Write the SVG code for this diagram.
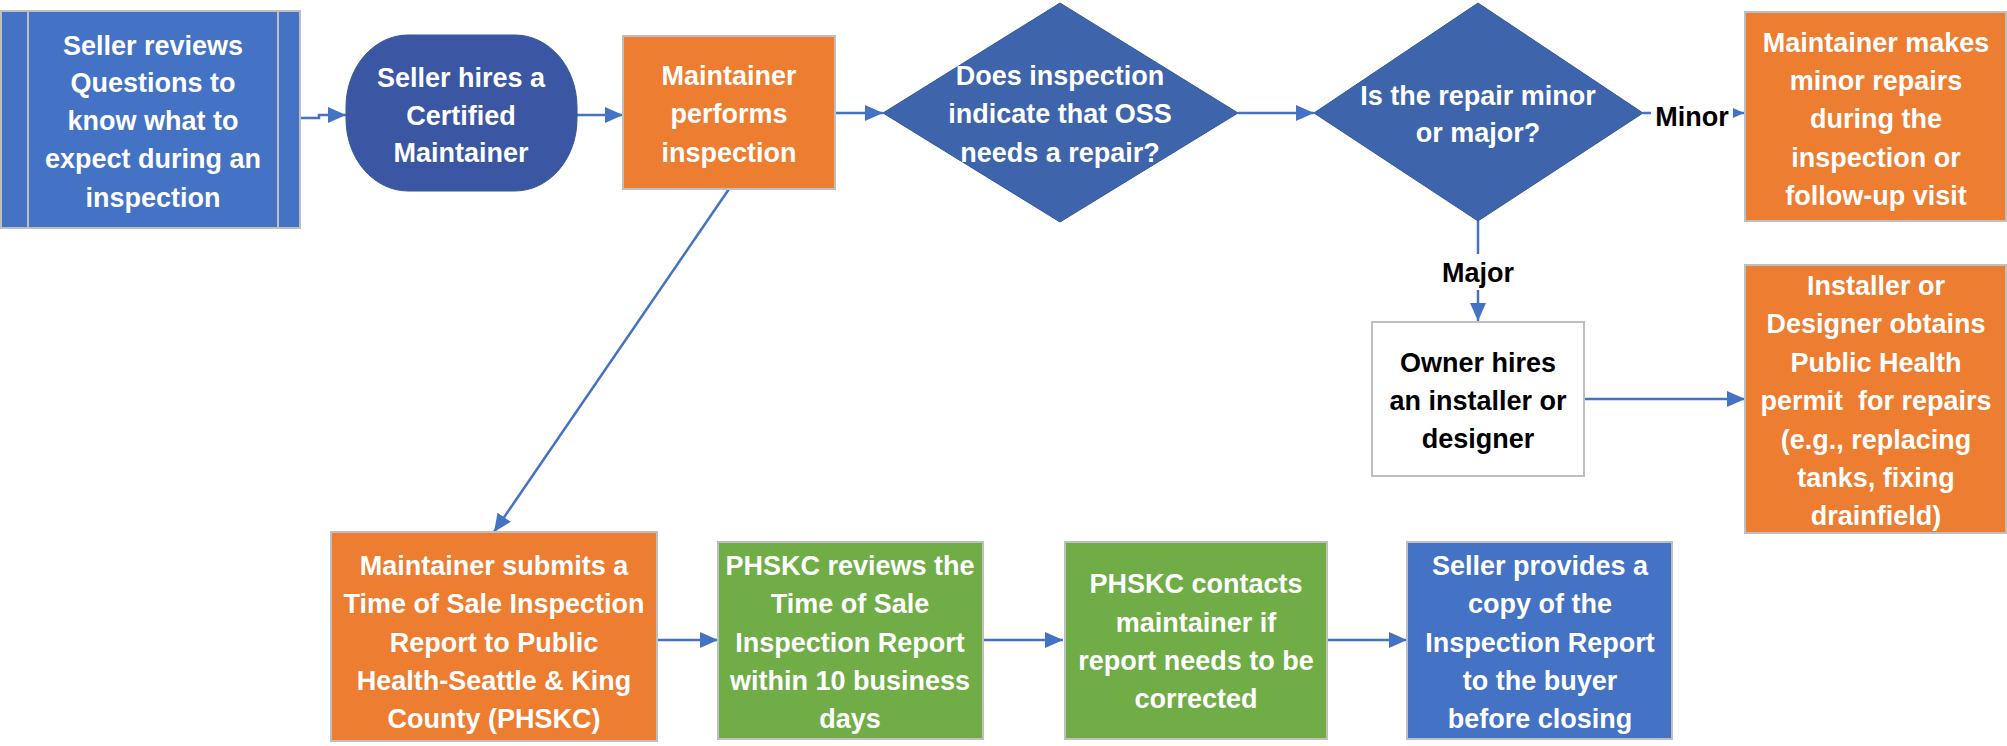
<svg xmlns="http://www.w3.org/2000/svg" width="2007" height="746" viewBox="0 0 2007 746">
<style>
.t{font-family:"Liberation Sans",Arial,sans-serif;font-weight:bold;font-size:27px;text-anchor:middle;fill:#ffffff}
.k{fill:#000000}
.box{stroke:#BFBFBF;stroke-width:2}
.blue{fill:#4472C4}
.orange{fill:#ED7D31}
.green{fill:#70AD47}
.dia{fill:#3E64AB;stroke:#35599C;stroke-width:1}
.conn{fill:none;stroke:#4472C4;stroke-width:2.5}
</style>
<defs>
<marker id="ah" markerUnits="userSpaceOnUse" markerWidth="19" markerHeight="18" refX="18" refY="8" orient="auto">
<path d="M0,0 L18,8 L0,16 z" fill="#4472C4"/>
</marker>
<marker id="ahs" markerUnits="userSpaceOnUse" markerWidth="12" markerHeight="12" refX="11" refY="5" orient="auto">
<path d="M0,0 L11,5 L0,10 z" fill="#4472C4"/>
</marker>
</defs>
<rect width="2007" height="746" fill="#ffffff"/>

<g id="connectors">
<path class="conn" d="M300,118 H319 V115 H346" marker-end="url(#ah)"/>
<path class="conn" d="M577,115 H623" marker-end="url(#ah)"/>
<path class="conn" d="M835,113 H883" marker-end="url(#ah)"/>
<path class="conn" d="M1238,113 H1314" marker-end="url(#ah)"/>
<path class="conn" d="M1643,113 H1744" marker-end="url(#ahs)"/>
<path class="conn" d="M1478,221 V321" marker-end="url(#ah)"/>
<path class="conn" d="M1584,399 H1745" marker-end="url(#ah)"/>
<path class="conn" d="M729,189 L494,532" marker-end="url(#ah)"/>
<path class="conn" d="M657,640 H718" marker-end="url(#ah)"/>
<path class="conn" d="M983,640 H1063" marker-end="url(#ah)"/>
<path class="conn" d="M1327,640 H1407" marker-end="url(#ah)"/>
<rect x="1651" y="98" width="82" height="34" fill="#ffffff"/>
<text class="t k" x="1692" y="126">Minor</text>
<rect x="1440" y="254" width="76" height="36" fill="#ffffff"/>
<text class="t k" x="1478" y="282">Major</text>
</g>

<g id="n1">
<rect class="box blue" x="1" y="11" width="299" height="217"/>
<line x1="28" y1="11" x2="28" y2="228" stroke="#BFBFBF" stroke-width="2"/>
<line x1="278" y1="11" x2="278" y2="228" stroke="#BFBFBF" stroke-width="2"/>
<text class="t" x="153"><tspan x="153" y="55">Seller reviews</tspan><tspan x="153" y="92">Questions to</tspan><tspan x="153" y="130">know what to</tspan><tspan x="153" y="168">expect during an</tspan><tspan x="153" y="207">inspection</tspan></text>
</g>

<g id="n2">
<rect x="346" y="35" width="231" height="156" rx="62" ry="72" fill="#3B56A2" stroke="#35599C" stroke-width="1"/>
<text class="t"><tspan x="461" y="87">Seller hires a</tspan><tspan x="461" y="125">Certified</tspan><tspan x="461" y="162">Maintainer</tspan></text>
</g>

<g id="n3">
<rect class="box orange" x="623" y="36" width="212" height="153"/>
<text class="t"><tspan x="729" y="85">Maintainer</tspan><tspan x="729" y="123">performs</tspan><tspan x="729" y="162">inspection</tspan></text>
</g>

<g id="d1">
<polygon class="dia" points="1060,3 1238,113 1060,222 883,113"/>
<text class="t"><tspan x="1060" y="85">Does inspection</tspan><tspan x="1060" y="123">indicate that OSS</tspan><tspan x="1060" y="162">needs a repair?</tspan></text>
</g>

<g id="d2">
<polygon class="dia" points="1478,3 1643,113 1478,221 1314,113"/>
<text class="t"><tspan x="1478" y="105">Is the repair minor</tspan><tspan x="1478" y="142">or major?</tspan></text>
</g>

<g id="n4">
<rect class="box orange" x="1745" y="12" width="261" height="209"/>
<text class="t"><tspan x="1876" y="52">Maintainer makes</tspan><tspan x="1876" y="90">minor repairs</tspan><tspan x="1876" y="128">during the</tspan><tspan x="1876" y="167">inspection or</tspan><tspan x="1876" y="205">follow-up visit</tspan></text>
</g>

<g id="n5">
<rect class="box" x="1372" y="322" width="212" height="154" fill="#ffffff"/>
<text class="t k"><tspan x="1478" y="372">Owner hires</tspan><tspan x="1478" y="410">an installer or</tspan><tspan x="1478" y="448">designer</tspan></text>
</g>

<g id="n6">
<rect class="box orange" x="1745" y="265" width="261" height="268"/>
<text class="t" style="white-space:pre"><tspan x="1876" y="295">Installer or</tspan><tspan x="1876" y="333">Designer obtains</tspan><tspan x="1876" y="372">Public Health</tspan><tspan x="1876" y="410">permit  for repairs</tspan><tspan x="1876" y="449">(e.g., replacing</tspan><tspan x="1876" y="487">tanks, fixing</tspan><tspan x="1876" y="525">drainfield)</tspan></text>
</g>

<g id="n7">
<rect class="box orange" x="331" y="532" width="326" height="209"/>
<text class="t"><tspan x="494" y="575">Maintainer submits a</tspan><tspan x="494" y="613">Time of Sale Inspection</tspan><tspan x="494" y="652">Report to Public</tspan><tspan x="494" y="690">Health-Seattle &amp; King</tspan><tspan x="494" y="728">County (PHSKC)</tspan></text>
</g>

<g id="n8">
<rect class="box green" x="718" y="542" width="265" height="197"/>
<text class="t"><tspan x="850" y="575">PHSKC reviews the</tspan><tspan x="850" y="613">Time of Sale</tspan><tspan x="850" y="652">Inspection Report</tspan><tspan x="850" y="690">within 10 business</tspan><tspan x="850" y="728">days</tspan></text>
</g>

<g id="n9">
<rect class="box green" x="1065" y="542" width="262" height="197"/>
<text class="t"><tspan x="1196" y="593">PHSKC contacts</tspan><tspan x="1196" y="632">maintainer if</tspan><tspan x="1196" y="670">report needs to be</tspan><tspan x="1196" y="708">corrected</tspan></text>
</g>

<g id="n10">
<rect class="box blue" x="1407" y="542" width="265" height="197"/>
<text class="t"><tspan x="1540" y="575">Seller provides a</tspan><tspan x="1540" y="613">copy of the</tspan><tspan x="1540" y="652">Inspection Report</tspan><tspan x="1540" y="690">to the buyer</tspan><tspan x="1540" y="728">before closing</tspan></text>
</g>
</svg>
